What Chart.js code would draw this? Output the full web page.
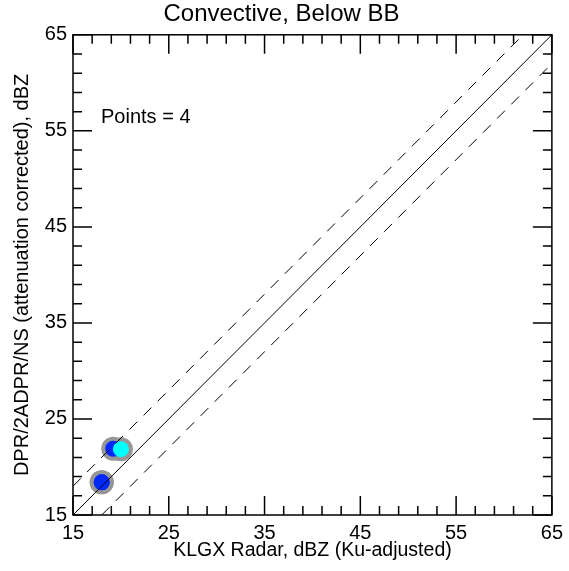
<!DOCTYPE html>
<html>
<head>
<meta charset="utf-8">
<script src="https://cdn.jsdelivr.net/npm/chart.js@4.4.1/dist/chart.umd.min.js"></script>
<style>
  html, body { margin: 0; padding: 0; background: #fff; }
  #wrap { width: 569px; height: 571px; position: relative; }
</style>
</head>
<body>
<div id="wrap"><canvas id="myChart" width="569" height="571"></canvas></div>
<script>
const axisMin = 15;
const axisMax = 65;
const majorTicks = [15, 25, 35, 45, 55, 65];
const minorStep = 2;

// gauge points (KLGX vs DPR), dBZ
const blueX = [18.0, 18.0, 19.2];
const blueY = [18.4, 18.4, 21.9];
const cyanX = [20.0];
const cyanY = [21.85];
const pointCount = 4;

// 1:1 line and +/- offsets
const refOffsets = [0, 3, -3];

const ctx = document.getElementById("myChart");

function refLine(off) {
  const pts = [];
  const x0 = Math.max(axisMin, axisMin - off);
  const x1 = Math.min(axisMax, axisMax - off);
  pts.push({ x: x0, y: x0 + off });
  pts.push({ x: x1, y: x1 + off });
  return pts;
}

const allX = blueX.concat(cyanX);
const allY = blueY.concat(cyanY);

const datasets = [];
refOffsets.forEach(function (off) {
  datasets.push({
    type: "line",
    data: refLine(off),
    borderColor: "#000",
    borderWidth: 1,
    borderDash: off === 0 ? [] : [11, 9],
    pointRadius: 0,
    fill: false,
    order: 0,
  });
});
datasets.push({
  data: cyanX.map((x, i) => ({ x: x, y: cyanY[i] })),
  backgroundColor: "rgb(0,255,255)",
  borderWidth: 0,
  pointRadius: 8,
  order: 1,
});
datasets.push({
  data: blueX.map((x, i) => ({ x: x, y: blueY[i] })),
  backgroundColor: "rgb(0,40,255)",
  borderWidth: 0,
  pointRadius: 8,
  order: 2,
});
datasets.push({
  data: allX.map((x, i) => ({ x: x, y: allY[i] })),
  backgroundColor: "rgb(150,150,150)",
  borderWidth: 0,
  pointRadius: 12,
  order: 3,
});

function buildTicks(scale) {
  const t = [];
  for (let v = axisMin; v <= axisMax; v += minorStep) t.push({ value: v });
  majorTicks.forEach(function (v) {
    if (!t.find((k) => k.value === v)) t.push({ value: v });
  });
  t.sort((a, b) => a.value - b.value);
  scale.ticks = t;
}

const tickLabel = function (v) {
  return majorTicks.indexOf(v) >= 0 ? String(v) : "";
};

const fontFamily = "'Liberation Sans', Arial, sans-serif";
const font = { family: fontFamily, size: 20 };
const titleFont = { family: fontFamily, size: 19.5 };

// inward ticks on all four sides, frame, and the count label
const framePlugin = {
  id: "frame",
  afterDatasetsDraw(chart) {
    const c = chart.ctx;
    const a = chart.chartArea;
    const xs = chart.scales.x;
    const ys = chart.scales.y;
    c.save();
    c.strokeStyle = "#000";
    c.lineWidth = 1.5;
    c.strokeRect(a.left, a.top, a.right - a.left, a.bottom - a.top);
    c.beginPath();
    xs.ticks.forEach(function (t) {
      const len = majorTicks.indexOf(t.value) >= 0 ? 19 : 9;
      const px = xs.getPixelForValue(t.value);
      c.moveTo(px, a.bottom);
      c.lineTo(px, a.bottom - len);
      c.moveTo(px, a.top);
      c.lineTo(px, a.top + len);
    });
    ys.ticks.forEach(function (t) {
      const len = majorTicks.indexOf(t.value) >= 0 ? 19 : 9;
      const py = ys.getPixelForValue(t.value);
      c.moveTo(a.left, py);
      c.lineTo(a.left + len, py);
      c.moveTo(a.right, py);
      c.lineTo(a.right - len, py);
    });
    c.stroke();
    c.fillStyle = "#000";
    c.font = "20px " + fontFamily;
    c.textBaseline = "middle";
    c.fillText("Points = " + pointCount, a.left + 28, a.top + 83);
    c.restore();
  },
};

const config = {
  type: "scatter",
  data: { datasets: datasets },
  options: {
    responsive: false,
    animation: false,
    layout: { padding: { left: 10, right: 16, top: 0, bottom: 9 } },
    plugins: {
      legend: { display: false },
      tooltip: { enabled: false },
      title: {
        display: true,
        text: "Convective, Below BB",
        color: "#000",
        font: { family: fontFamily, size: 24, weight: "normal" },
        padding: { top: 0, bottom: 6 },
      },
    },
    scales: {
      x: {
        type: "linear",
        min: axisMin,
        max: axisMax,
        afterBuildTicks: buildTicks,
        afterFit: function (s) { s.height = 47; },
        grid: { display: false, drawTicks: false, tickLength: 0 },
        border: { display: false },
        ticks: {
          autoSkip: false,
          maxRotation: 0,
          color: "#000",
          font: font,
          padding: 6,
          callback: tickLabel,
        },
        title: {
          display: true,
          text: "KLGX Radar, dBZ (Ku-adjusted)",
          color: "#000",
          font: titleFont,
          padding: { top: 0, bottom: 0 },
        },
      },
      y: {
        type: "linear",
        min: axisMin,
        max: axisMax,
        afterBuildTicks: buildTicks,
        afterFit: function (s) { s.width = 63; },
        grid: { display: false, drawTicks: false, tickLength: 0 },
        border: { display: false },
        ticks: {
          autoSkip: false,
          color: "#000",
          font: font,
          padding: 6,
          callback: tickLabel,
        },
        title: {
          display: true,
          text: "DPR/2ADPR/NS (attenuation corrected), dBZ",
          color: "#000",
          font: font,
          padding: { top: 0, bottom: 0 },
        },
      },
    },
  },
  plugins: [framePlugin],
};

const chart = new Chart(ctx, config);
</script>
</body>
</html>
